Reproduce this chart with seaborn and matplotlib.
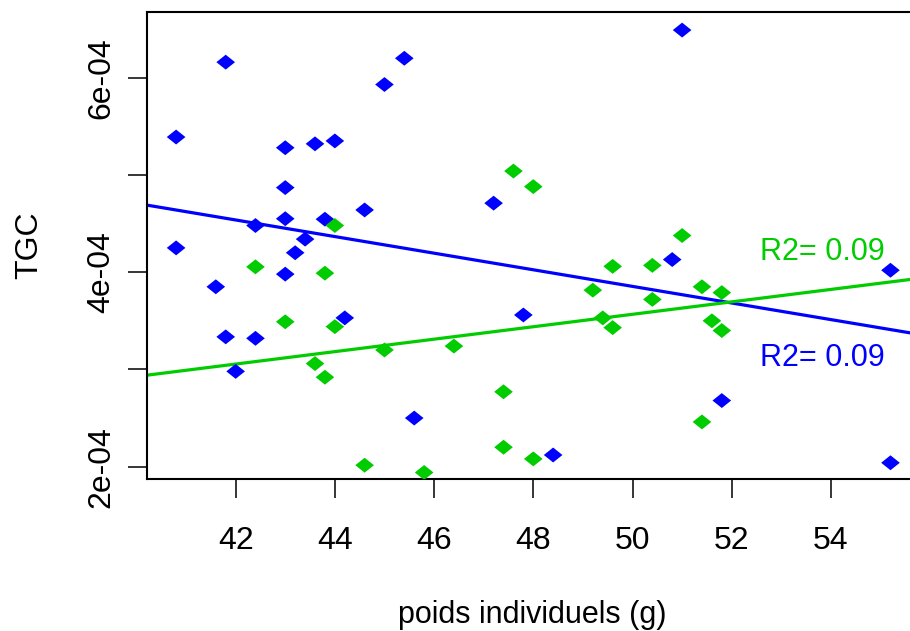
import numpy as np
import pandas as pd
import matplotlib
matplotlib.use("Agg")
import matplotlib.pyplot as plt
import seaborn as sns

# values
blue_x = [41.8, 45.4, 45.0, 40.8, 43.0, 43.6, 44.0, 43.0, 47.2, 44.6,
          43.0, 43.8, 42.4, 43.4, 40.8, 43.2, 43.0, 41.6, 44.2, 41.8,
          42.4, 42.0, 45.6, 47.8, 51.0, 50.8, 55.2, 51.8, 48.4, 55.2]
blue_y = [6.16e-4, 6.20e-4, 5.93e-4, 5.39e-4, 5.28e-4, 5.32e-4, 5.35e-4, 4.87e-4, 4.71e-4, 4.64e-4,
          4.55e-4, 4.545e-4, 4.48e-4, 4.34e-4, 4.25e-4, 4.20e-4, 3.98e-4, 3.85e-4, 3.53e-4, 3.335e-4,
          3.32e-4, 2.98e-4, 2.50e-4, 3.56e-4, 6.49e-4, 4.13e-4, 4.02e-4, 2.68e-4, 2.12e-4, 2.04e-4]

green_x = [47.6, 48.0, 44.0, 42.4, 43.8, 43.0, 44.0, 43.6, 43.8, 45.0,
           46.4, 47.4, 47.4, 44.6, 45.8, 48.0, 51.0, 49.6, 50.4, 49.2,
           50.4, 51.4, 51.8, 49.4, 49.6, 51.6, 51.8, 51.4]
green_y = [5.04e-4, 4.88e-4, 4.48e-4, 4.055e-4, 3.99e-4, 3.49e-4, 3.44e-4, 3.06e-4, 2.92e-4, 3.20e-4,
           3.24e-4, 2.77e-4, 2.20e-4, 2.015e-4, 1.94e-4, 2.08e-4, 4.377e-4, 4.06e-4, 4.07e-4, 3.815e-4,
           3.72e-4, 3.85e-4, 3.79e-4, 3.53e-4, 3.43e-4, 3.50e-4, 3.40e-4, 2.46e-4]

series_names = ["blue", "green"]
series_colors = ["#0000FF", "#00CC00"]
r2_labels = ["R2= 0.09", "R2= 0.09"]

# fitted lines as drawn in the reference (intercept, slope)
fit_intercept = [8.124e-4, 3.68e-5]
fit_slope = [-8.54e-6, 6.398e-6]

x_ticks = [42, 44, 46, 48, 50, 52, 54]
y_ticks = [2e-4, 3e-4, 4e-4, 5e-4, 6e-4]
y_ticklabels = ["2e-04", "", "4e-04", "", "6e-04"]

df = pd.DataFrame({
    "poids": blue_x + green_x,
    "TGC": blue_y + green_y,
    "groupe": ["blue"] * len(blue_x) + ["green"] * len(green_x),
})

sns.set_style("white")
plt.rcParams["font.family"] = ["Liberation Sans", "DejaVu Sans"]

fig = plt.figure(figsize=(9.1, 6.31), dpi=100)
ax = fig.add_axes([0.1619, 0.2404, 0.845, 0.7406])
xlim = (40.22, 55.72)
ylim = (1.870e-4, 6.676e-4)

palette = dict(zip(series_names, series_colors))

# regression lines across the whole plotting region
xs = np.array(xlim)
for name, b0, b1 in zip(series_names, fit_intercept, fit_slope):
    sns.lineplot(x=xs, y=b0 + b1 * xs, color=palette[name], linewidth=2.3,
                 ax=ax, zorder=2)

# R-style filled diamond (pch 18), a bit wider than tall
diamond = [(-1, 0), (0, 0.8), (1, 0), (0, -0.8), (-1, 0)]
sns.scatterplot(data=df, x="poids", y="TGC", hue="groupe", palette=palette,
                marker=diamond, s=180, linewidth=0, legend=False, ax=ax, zorder=3)

ax.set_xlim(*xlim)
ax.set_ylim(*ylim)

# R2 annotations
ax.text(52.56, 4.209e-4, r2_labels[1], color=series_colors[1], fontsize=22,
        ha="left", va="center")
ax.text(52.56, 3.116e-4, r2_labels[0], color=series_colors[0], fontsize=22,
        ha="left", va="center")

ax.set_xticks(x_ticks)
ax.set_xticklabels([str(t) for t in x_ticks])
ax.set_yticks(y_ticks)
ax.set_yticklabels(y_ticklabels, rotation=90, va="center")
ax.tick_params(axis="both", direction="out", length=13.5, width=1.1,
               labelsize=23, colors="black", left=True, bottom=True)
ax.tick_params(axis="x", pad=20)
ax.tick_params(axis="y", pad=9)

ax.set_xlabel("poids individuels (g)", fontsize=22, labelpad=32, color="black")
ax.set_ylabel("TGC", fontsize=23, labelpad=30, color="black")

for side in ["left", "bottom", "top"]:
    ax.spines[side].set_color("black")
    ax.spines[side].set_linewidth(1.5)
ax.spines["right"].set_visible(False)

fig.savefig("out.png", dpi=100)
plt.close(fig)
